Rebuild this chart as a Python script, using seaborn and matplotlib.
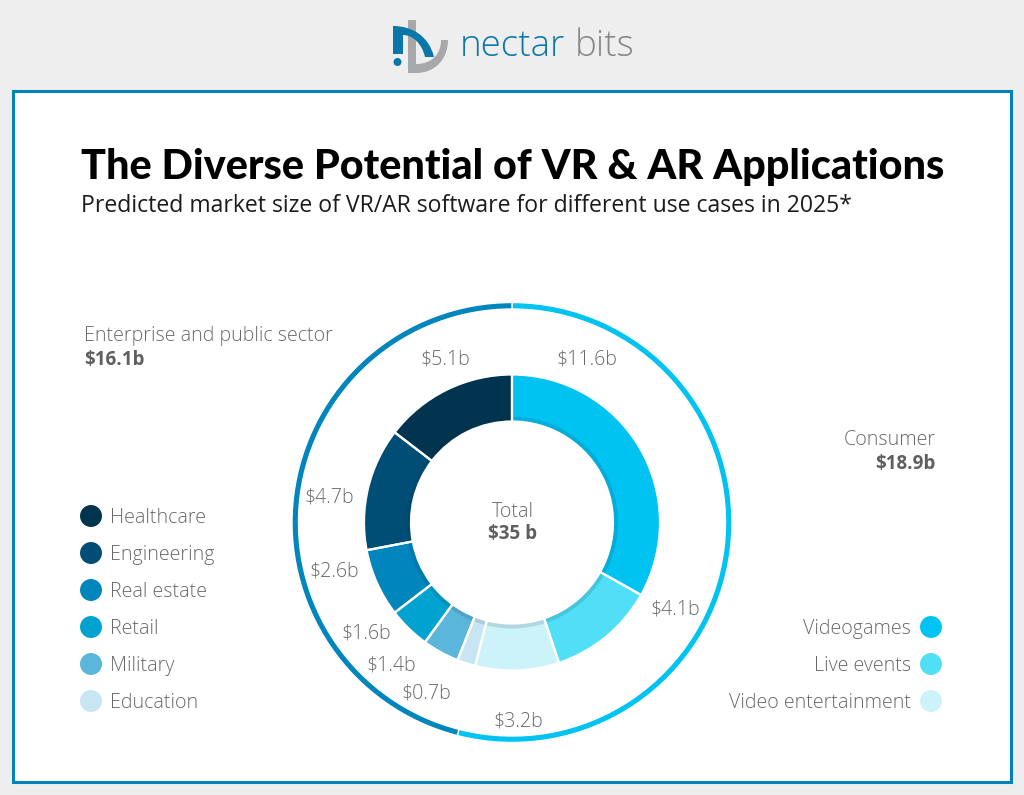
"""
Donut chart of predicted VR/AR software market size in 2025
"""

import matplotlib
matplotlib.use("Agg")
import matplotlib.pyplot as plt
from matplotlib.patches import Circle, PathPatch, Rectangle
from matplotlib.path import Path
import seaborn as sns

# segments, clockwise from 12 o'clock
segments = ["Videogames", "Live events", "Video entertainment", "Education",
            "Military", "Retail", "Real estate", "Engineering", "Healthcare"]
values = [11.6, 4.1, 3.2, 0.7, 1.4, 1.6, 2.6, 4.7, 5.1]
colors = ["#00c3f2", "#50dff7", "#ccf3fa", "#c8e5f3", "#5bb6dc",
          "#00a2d0", "#0085bd", "#004e75", "#00344f"]
value_labels = ["$11.6b", "$4.1b", "$3.2b", "$0.7b", "$1.4b", "$1.6b",
                "$2.6b", "$4.7b", "$5.1b"]

groups = ["Consumer", "Enterprise and public sector"]
group_values = [18.9, 16.1]
group_labels = ["$18.9b", "$16.1b"]
group_colors = ["#00c3f2", "#0085bd"]

left_legend = ["Healthcare", "Engineering", "Real estate", "Retail", "Military", "Education"]
right_legend = ["Videogames", "Live events", "Video entertainment"]

TEXT_GREY = "#696969"
DARK_GREY = "#5f5f5f"
LABEL_SIZE = 14.1
BOLD_SIZE = 13.5
H = 795

sns.set_theme(style="white")
plt.rcParams["font.family"] = ["Open Sans", "DejaVu Sans"]

fig = plt.figure(figsize=(10.24, 7.95), dpi=100, facecolor="#eeeeee")
ax = fig.add_axes([0, 0, 1, 1])
ax.set_xlim(0, 1024)
ax.set_ylim(0, H)
ax.axis("off")


def label(x, y, text, **kwargs):
    """Text placed with pixel coordinates measured from the top left"""
    kwargs.setdefault("color", TEXT_GREY)
    kwargs.setdefault("va", "center")
    kwargs.setdefault("fontsize", LABEL_SIZE)
    kwargs.setdefault("fontweight", "light")
    return ax.text(x, H - y, text, **kwargs)


# card
ax.add_patch(Rectangle((13, H - 782), 998, 691, facecolor="white",
                       edgecolor="#0084b8", linewidth=2.2, zorder=0))

# logo
BLUE = "#0a77a8"
GREY = "#a6a8aa"
ax.add_patch(PathPatch(Path(
    [(408, H - 20), (416, H - 20), (416, H - 73), (408, H - 73), (408, H - 20)],
    [Path.MOVETO, Path.LINETO, Path.LINETO, Path.LINETO, Path.CLOSEPOLY]),
    facecolor=GREY, edgecolor="none", zorder=2))
ax.add_patch(PathPatch(Path(
    [(416, H - 73), (436, H - 73), (448, H - 58), (448, H - 40), (441, H - 40),
     (441, H - 54), (432, H - 64), (416, H - 64), (416, H - 73)],
    [Path.MOVETO, Path.CURVE4, Path.CURVE4, Path.CURVE4, Path.LINETO,
     Path.CURVE4, Path.CURVE4, Path.CURVE4, Path.CLOSEPOLY]),
    facecolor=GREY, edgecolor="none", zorder=2))
ax.add_patch(PathPatch(Path(
    [(393, H - 26), (412, H - 26), (429, H - 36), (434, H - 57), (425, H - 57),
     (422, H - 44), (413, H - 35), (403, H - 35), (403, H - 54), (393, H - 54),
     (393, H - 26)],
    [Path.MOVETO, Path.CURVE4, Path.CURVE4, Path.CURVE4, Path.LINETO,
     Path.CURVE4, Path.CURVE4, Path.CURVE4, Path.LINETO, Path.LINETO, Path.CLOSEPOLY]),
    facecolor=BLUE, edgecolor="none", zorder=3))
ax.add_patch(Circle((397.5, H - 62), 4, facecolor=BLUE, edgecolor="none", zorder=3))
label(460, 47, "nectar", fontsize=26.5, color=BLUE)
label(575, 47, "bits", fontsize=26.5, color="#85878a")

# headings
label(81, 167, "The Diverse Potential of VR & AR Applications", fontsize=29.8,
      fontweight="black", color="black", family="Lato")
label(81, 206, "Predicted market size of VR/AR software for different use cases in 2025*",
      fontsize=16.6, color="#1c1c1c", fontweight="normal")

# inner donut, separators are added after the shaded band so they run over it
centre = (512, H - 522.5)
ax.pie(values, colors=colors, startangle=90, counterclock=False, center=centre,
       radius=148, frame=True, wedgeprops={"width": 47, "linewidth": 0})
ax.pie(values, colors=[(0.05, 0.2, 0.27, 0.14)] * len(values), startangle=90,
       counterclock=False, center=centre, radius=106, frame=True,
       wedgeprops={"width": 5, "linewidth": 0})
ax.pie(values, colors=["none"] * len(values), startangle=90, counterclock=False, center=centre,
       radius=148, frame=True,
       wedgeprops={"width": 47, "edgecolor": "white", "linewidth": 1.6})

# outer ring with the two groups
ax.pie(group_values, colors=group_colors, startangle=90, counterclock=False, center=centre,
       radius=220, frame=True,
       wedgeprops={"width": 6.5, "edgecolor": "white", "linewidth": 1.0})
ax.set_xlim(0, 1024)
ax.set_ylim(0, H)
ax.axis("off")

# value labels around the donut
label_xy = [(587, 359), (675, 609), (518, 721), (426, 694), (391, 666),
            (366, 634), (334, 572), (329, 498), (445, 359)]
for (x, y), text in zip(label_xy, value_labels):
    label(x, y, text, ha="center")

label(513, 512, "Total", ha="center")
label(513, 534, "$35 b", ha="center", fontweight="bold", color=DARK_GREY, fontsize=BOLD_SIZE)

# group captions
label(84, 336, groups[1])
label(84, 360, group_labels[1], fontweight="bold", color=DARK_GREY, fontsize=BOLD_SIZE)
label(936, 440, groups[0], ha="right")
label(936, 464, group_labels[0], ha="right", fontweight="bold", color=DARK_GREY, fontsize=BOLD_SIZE)

# legends
color_of = dict(zip(segments, colors))
left_y = [516, 553, 590, 627, 664, 701]
right_y = [627, 664, 701]
sns.scatterplot(x=[91] * len(left_legend), y=[H - y for y in left_y], hue=left_legend,
                palette=color_of, s=250, linewidth=0, legend=False, ax=ax, zorder=4)
sns.scatterplot(x=[931] * len(right_legend), y=[H - y for y in right_y], hue=right_legend,
                palette=color_of, s=250, linewidth=0, legend=False, ax=ax, zorder=4)
for name, y in zip(left_legend, left_y):
    label(110, y + 2, name)
for name, y in zip(right_legend, right_y):
    label(911, y + 2, name, ha="right")

ax.set_xlim(0, 1024)
ax.set_ylim(0, H)
ax.set_aspect("auto")
ax.axis("off")
fig.savefig("out.png", dpi=100, facecolor=fig.get_facecolor())
plt.close(fig)
